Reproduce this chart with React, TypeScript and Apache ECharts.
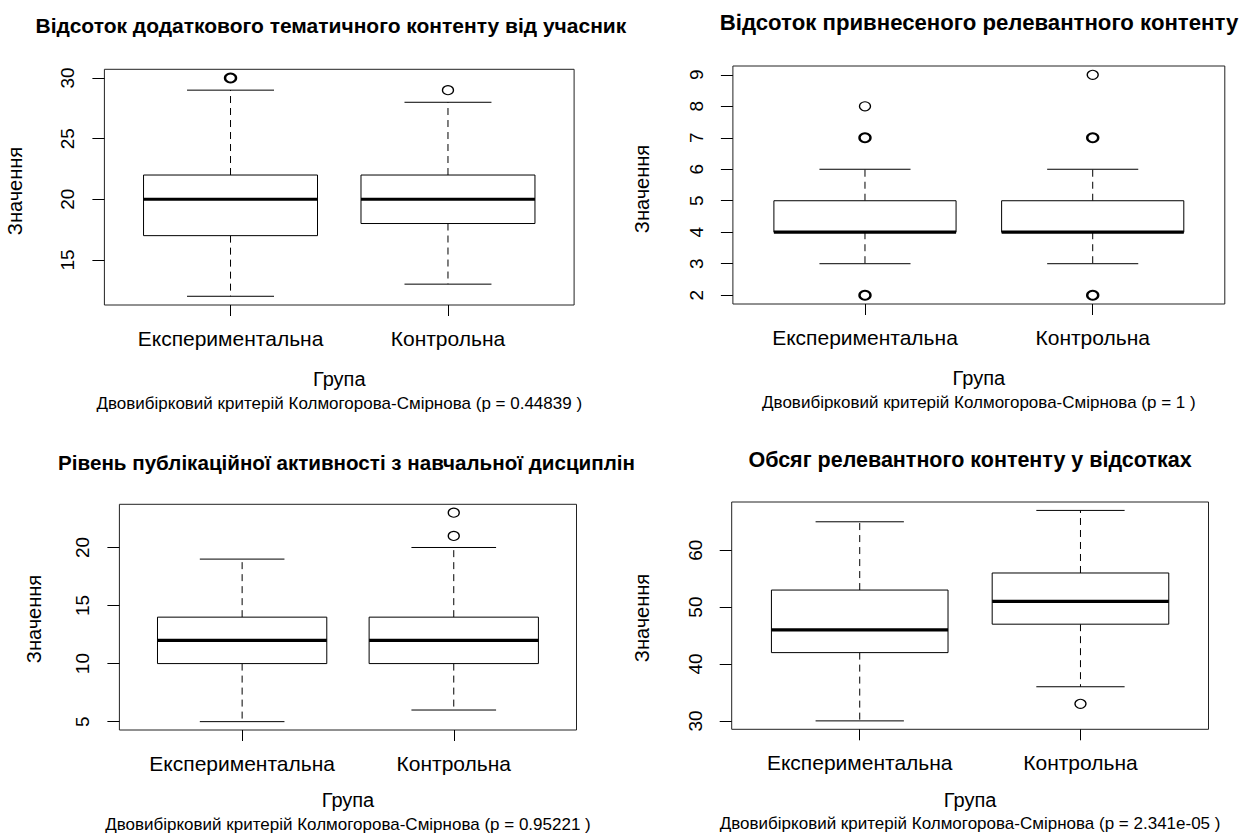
import React, { useEffect, useRef } from "react";
import * as echarts from "echarts";

// ---------- data ----------
const groups = ["Експериментальна", "Контрольна"];
const yName = "Значення";
const xName = "Група";

const titles = [
  "Відсоток додаткового тематичного контенту від учасник",
  "Відсоток привнесеного релевантного контенту",
  "Рівень публікаційної активності з навчальної дисциплін",
  "Обсяг релевантного контенту у відсотках",
];
const subtitles = [
  "Двовибірковий критерій Колмогорова-Смірнова (p = 0.44839 )",
  "Двовибірковий критерій Колмогорова-Смірнова (p = 1 )",
  "Двовибірковий критерій Колмогорова-Смірнова (p = 0.95221 )",
  "Двовибірковий критерій Колмогорова-Смірнова (p = 2.341e-05 )",
];

// [lower whisker, Q1, median, Q3, upper whisker]
const p1Exp = [12, 17, 20, 22, 29];
const p1Ctl = [13, 18, 20, 22, 28];
const p2Exp = [3, 4, 4, 5, 6];
const p2Ctl = [3, 4, 4, 5, 6];
const p3Exp = [5, 10, 12, 14, 19];
const p3Ctl = [6, 10, 12, 14, 20];
const p4Exp = [30, 42, 46, 53, 65];
const p4Ctl = [36, 47, 51, 56, 67];

// outliers (repeated values = overlapping points)
const p1ExpOut = [30, 30];
const p1CtlOut = [29];
const p2ExpOut = [2, 2, 7, 7, 8];
const p2CtlOut = [2, 2, 7, 7, 9];
const p3ExpOut: number[] = [];
const p3CtlOut = [21, 23];
const p4ExpOut: number[] = [];
const p4CtlOut = [33];

// y tick labels
const p1Ticks = [15, 20, 25, 30];
const p2Ticks = [2, 3, 4, 5, 6, 7, 8, 9];
const p3Ticks = [5, 10, 15, 20];
const p4Ticks = [30, 40, 50, 60];

// ---------- layout ----------
const layout = [
  { left: 104.4, top: 69.3, width: 469.7, height: 235.7, titleX: 35.6, titleY: 25, titleAlign: "left", titleSize: 21, groupY: 379, subY: 403.5, ylabX: 15.3, ylabY: 191 },
  { left: 732.9, top: 66, width: 491.9, height: 238, titleX: 979, titleY: 22, titleAlign: "center", titleSize: 22.2, groupY: 378, subY: 402.5, ylabX: 641.8, ylabY: 189 },
  { left: 119.4, top: 504.3, width: 457.1, height: 225.7, titleX: 58.1, titleY: 462.7, titleAlign: "left", titleSize: 20.6, groupY: 800, subY: 824, ylabX: 33.6, ylabY: 619 },
  { left: 731.7, top: 502, width: 476.8, height: 227.3, titleX: 970, titleY: 460, titleAlign: "center", titleSize: 21.5, groupY: 799.5, subY: 823.5, ylabX: 641.8, ylabY: 618 },
];

const panels = [
  { boxes: [p1Exp, p1Ctl], outs: [p1ExpOut, p1CtlOut], ticks: p1Ticks },
  { boxes: [p2Exp, p2Ctl], outs: [p2ExpOut, p2CtlOut], ticks: p2Ticks },
  { boxes: [p3Exp, p3Ctl], outs: [p3ExpOut, p3CtlOut], ticks: p3Ticks },
  { boxes: [p4Exp, p4Ctl], outs: [p4ExpOut, p4CtlOut], ticks: p4Ticks },
];

const FONT = "'Liberation Sans', Arial, Helvetica, sans-serif";

function renderBox(_params: any, api: any) {
  const x = api.value(0);
  const lo = api.value(1), q1 = api.value(2), med = api.value(3), q3 = api.value(4), hi = api.value(5);
  const cx = api.coord([x, med])[0];
  const yLo = api.coord([x, lo])[1];
  const yQ1 = api.coord([x, q1])[1];
  const yMed = api.coord([x, med])[1];
  const yQ3 = api.coord([x, q3])[1];
  const yHi = api.coord([x, hi])[1];
  const hb = api.size([0.4, 0])[0];
  const hc = hb / 2;
  const solid = { stroke: "#000", lineWidth: 1, fill: null };
  const dashed = { stroke: "#000", lineWidth: 1, fill: null, lineDash: [7, 5] };
  return {
    type: "group",
    children: [
      { type: "line", shape: { x1: cx, y1: yQ3, x2: cx, y2: yHi }, style: dashed },
      { type: "line", shape: { x1: cx, y1: yQ1, x2: cx, y2: yLo }, style: dashed },
      { type: "line", shape: { x1: cx - hc, y1: yHi, x2: cx + hc, y2: yHi }, style: solid },
      { type: "line", shape: { x1: cx - hc, y1: yLo, x2: cx + hc, y2: yLo }, style: solid },
      { type: "rect", shape: { x: cx - hb, y: yQ3, width: 2 * hb, height: yQ1 - yQ3 }, style: { fill: "#fff", stroke: "#000", lineWidth: 1 } },
      { type: "line", shape: { x1: cx - hb, y1: yMed, x2: cx + hb, y2: yMed }, style: { stroke: "#000", lineWidth: 3.2 } },
    ],
  };
}

function buildOption() {
  const grid: any[] = [];
  const xAxis: any[] = [];
  const yAxis: any[] = [];
  const series: any[] = [];
  const graphic: any[] = [];

  panels.forEach((p, i) => {
    const L = layout[i];
    grid.push({ left: L.left, top: L.top, width: L.width, height: L.height, show: true, borderColor: "#222", borderWidth: 1, backgroundColor: "transparent" });

    const all: number[] = [];
    p.boxes.forEach((b) => all.push(...b));
    p.outs.forEach((o) => all.push(...o));
    const lo = Math.min(...all), hi = Math.max(...all);
    const pad = (hi - lo) * 0.04;

    xAxis.push({
      gridIndex: i, type: "value", min: 0.42, max: 2.58,
      axisLine: { show: false },
      splitLine: { show: false },
      axisTick: { show: true, length: 11, customValues: [1, 2], lineStyle: { color: "#000", width: 1 } },
      axisLabel: { show: true, customValues: [1, 2], formatter: (v: number) => groups[Math.round(v) - 1], fontSize: 21, color: "#000", margin: 23, fontFamily: FONT },
    });
    yAxis.push({
      gridIndex: i, type: "value", min: lo - pad, max: hi + pad,
      axisLine: { show: false },
      splitLine: { show: false },
      axisTick: { show: true, length: 12, customValues: p.ticks, lineStyle: { color: "#000", width: 1 } },
      axisLabel: { show: true, customValues: p.ticks, rotate: 90, fontSize: 19, color: "#000", margin: 27, fontFamily: FONT },
    });

    series.push({
      type: "custom", xAxisIndex: i, yAxisIndex: i, renderItem: renderBox, clip: false,
      encode: { x: 0, y: [1, 2, 3, 4, 5] },
      data: p.boxes.map((b, k) => [k + 1, ...b]),
      silent: true,
    });

    const pts: any[] = [];
    p.outs.forEach((o, k) => {
      const counts = new Map<number, number>();
      o.forEach((v) => counts.set(v, (counts.get(v) || 0) + 1));
      counts.forEach((c, v) => {
        pts.push({ value: [k + 1, v], itemStyle: { borderWidth: c > 1 ? 2.2 : 1.2 } });
      });
    });
    series.push({
      type: "scatter", xAxisIndex: i, yAxisIndex: i, symbol: "circle", symbolSize: [11, 9],
      itemStyle: { color: "#fff", borderColor: "#000", borderWidth: 1.2, opacity: 1 },
      data: pts, silent: true, z: 5,
    });

    const cx = L.left + L.width / 2;
    graphic.push({
      type: "text", x: L.titleX, y: L.titleY,
      style: { text: titles[i], font: `bold ${L.titleSize}px ${FONT}`, fill: "#000", align: L.titleAlign, verticalAlign: "middle" },
    });
    graphic.push({
      type: "text", x: cx, y: L.groupY,
      style: { text: xName, font: `20px ${FONT}`, fill: "#000", align: "center", verticalAlign: "middle" },
    });
    graphic.push({
      type: "text", x: cx, y: L.subY,
      style: { text: subtitles[i], font: `17px ${FONT}`, fill: "#000", align: "center", verticalAlign: "middle" },
    });
    graphic.push({
      type: "text", x: L.ylabX, y: L.ylabY, rotation: Math.PI / 2,
      style: { text: yName, font: `20px ${FONT}`, fill: "#000", align: "center", verticalAlign: "middle" },
    });
  });

  return {
    animation: false,
    backgroundColor: "#fff",
    textStyle: { fontFamily: FONT },
    grid, xAxis, yAxis, series, graphic,
  };
}

export default function App() {
  const ref = useRef<HTMLDivElement>(null);
  useEffect(() => {
    if (!ref.current) return;
    const chart = echarts.init(ref.current, null, { renderer: "svg" });
    chart.setOption(buildOption() as any);
    return () => chart.dispose();
  }, []);
  return <div ref={ref} style={{ position: "absolute", left: 0, top: 0, width: 1241, height: 836, background: "#fff" }} />;
}
